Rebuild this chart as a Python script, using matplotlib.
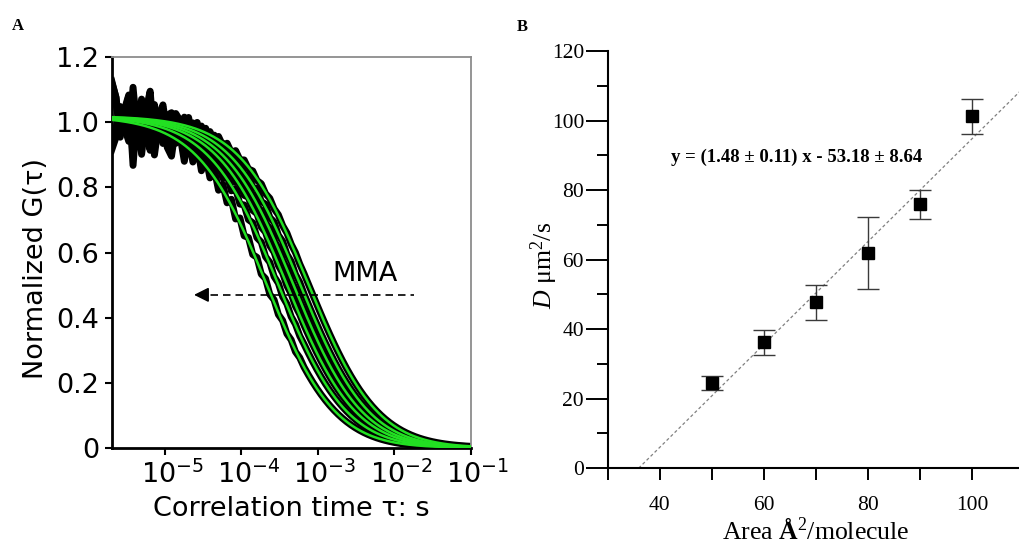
import numpy as np
import matplotlib.pyplot as plt
from matplotlib.ticker import FixedLocator, FixedFormatter, LogLocator, NullFormatter
from matplotlib.transforms import ScaledTranslation

plt.rcParams['mathtext.fontset'] = 'custom'
plt.rcParams['mathtext.rm'] = 'Liberation Serif'
plt.rcParams['mathtext.it'] = 'Liberation Serif:italic'
plt.rcParams['mathtext.bf'] = 'Liberation Serif:bold'
plt.rcParams['mathtext.sf'] = 'DejaVu Sans'

# ---- panel A: FCS curves (diffusion times) ----
tau_d = [2.15e-4, 3.05e-4, 3.95e-4, 4.8e-4, 5.9e-4, 7.6e-4]
g0 = 1.02
kappa = 5.0
alpha = 0.95
# wiggles of the measured traces at short lag times
noise = [0.12, 0.07, -0.05, 0.03, 0.08, -0.13, 0.05, -0.09, 0.03, 0.10,
         -0.08, 0.02, 0.06, -0.04, -0.06, 0.04, 0.02, -0.05, 0.04, -0.03,
         0.035, -0.03, 0.03, -0.02, 0.025, -0.02, 0.02, -0.015, 0.02, -0.015,
         0.015, -0.012, 0.012, -0.01, 0.012, -0.008, 0.01, -0.007, 0.008, -0.006,
         0.006, -0.005, 0.005, -0.004, 0.004]
curve_scale = [1.0, -0.8, 0.7, -0.6, 0.9, -0.5]
xticks_a = [1e-5, 1e-4, 1e-3, 1e-2, 1e-1]
xticklabels_a = [r'$\mathsf{10^{-5}}$', r'$\mathsf{10^{-4}}$', r'$\mathsf{10^{-3}}$',
                 r'$\mathsf{10^{-2}}$', r'$\mathsf{10^{-1}}$']
yticks_a = [0, 0.2, 0.4, 0.6, 0.8, 1.0, 1.2]
yticklabels_a = ['0', '0.2', '0.4', '0.6', '0.8', '1.0', '1.2']

# ---- panel B: diffusion coefficient vs area ----
area = [50, 60, 70, 80, 90, 100]
diff_coef = [24.4, 36.2, 47.7, 61.9, 75.9, 101.2]
diff_err = [2.0, 3.5, 5.0, 10.4, 4.2, 5.1]
slope = 1.48
intercept = -53.18


def fcs(t, td):
    u = (t / td) ** alpha
    return g0 / (1 + u) / np.sqrt(1 + u / kappa ** 2)


fig = plt.figure(figsize=(10.19, 5.45), dpi=100)

axA = fig.add_axes([0.1096, 0.1785, 0.3523, 0.7162])
t_fit = np.logspace(np.log10(2e-6), -1, 400)
t_dat = np.logspace(np.log10(2e-6), -1, 85)
for k, td in enumerate(tau_d):
    wig = np.zeros(len(t_dat))
    wig[:len(noise)] = np.array(noise) * curve_scale[k]
    axA.plot(t_dat, fcs(t_dat, td) + wig, color='black', lw=5,
             solid_joinstyle='round', zorder=2)
for td in tau_d:
    axA.plot(t_fit, fcs(t_fit, td), color='#22e022', lw=1.8, zorder=3)

axA.plot([2.7e-5, 0.018], [0.47, 0.47], color='black', lw=1.2,
         dashes=(4.5, 3), zorder=4)
axA.annotate('', xy=(2.2e-5, 0.47), xytext=(3.6e-5, 0.47),
             arrowprops=dict(arrowstyle='-|>', color='black', lw=1.2,
                             mutation_scale=22), zorder=4)
axA.text(4.2e-3, 0.535, 'MMA', fontsize=19.5, ha='center', va='center')

axA.set_xscale('log')
axA.set_xlim(2e-6, 0.1)
axA.set_ylim(0, 1.2)
axA.xaxis.set_major_locator(FixedLocator(xticks_a))
axA.xaxis.set_major_formatter(FixedFormatter(xticklabels_a))
axA.xaxis.set_minor_locator(LogLocator(base=10, subs=np.arange(2, 10)))
axA.xaxis.set_minor_formatter(NullFormatter())
axA.set_yticks(yticks_a)
axA.set_yticklabels(yticklabels_a)
for s in ['left', 'bottom']:
    axA.spines[s].set_linewidth(2)
for s in ['top', 'right']:
    axA.spines[s].set_color('#8c8c8c')
    axA.spines[s].set_linewidth(1.3)
axA.tick_params(which='major', direction='out', length=5, width=1.5,
                labelsize=19.5, pad=4)
axA.tick_params(which='minor', direction='out', length=3, width=1)
for lab in axA.get_xticklabels():
    lab.set_transform(lab.get_transform() + ScaledTranslation(0.07, 0, fig.dpi_scale_trans))
axA.set_xlabel('Correlation time τ: s', fontsize=19.5, labelpad=5)
axA.set_ylabel('Normalized G(τ)', fontsize=19.5)
axA.yaxis.set_label_coords(-0.175, 0.46)

# ---- panel B ----
axB = fig.add_axes([0.5964, 0.1409, 0.4087, 0.7653])
x_fit = np.array([-intercept / slope, 110])
axB.plot(x_fit, slope * x_fit + intercept, color='#808080', lw=0.9,
         linestyle=(0, (2.5, 2)))
axB.errorbar(area, diff_coef, yerr=diff_err, fmt='s', color='black',
             ecolor='#3a3a3a', elinewidth=1.0, capsize=8, capthick=1.0,
             markersize=9)
axB.text(66.2, 89.5, 'y = (1.48 ± 0.11) x - 53.18 ± 8.64',
         family='Liberation Serif', fontweight='bold', fontsize=13.5,
         ha='center', va='center')

axB.set_xlim(30, 110)
axB.set_ylim(0, 120)
axB.set_xticks([40, 60, 80, 100])
axB.set_xticks([30, 50, 70, 90, 110], minor=True)
axB.set_yticks([0, 20, 40, 60, 80, 100, 120])
axB.set_yticks([10, 30, 50, 70, 90, 110], minor=True)
axB.spines['top'].set_visible(False)
axB.spines['right'].set_visible(False)
axB.spines['left'].set_linewidth(1.5)
axB.spines['bottom'].set_linewidth(1.5)
axB.tick_params(axis='y', which='major', length=16, width=1.4, pad=1)
axB.tick_params(axis='y', which='minor', length=8, width=1.4)
axB.tick_params(axis='x', which='both', length=8.3, width=1.4, pad=12)
for lab in axB.get_xticklabels() + axB.get_yticklabels():
    lab.set_family('Liberation Serif')
    lab.set_fontsize(15.5)
axB.set_xlabel(r'Area $\mathbf{Å}^{2}$/molecule', family='Liberation Serif',
               fontsize=18.5, labelpad=2)
axB.set_ylabel(r'$D$ μm$^{2}$/s', family='Liberation Serif', fontsize=18.5,
               labelpad=1)
axB.yaxis.set_label_coords(-0.115, 0.485)

fig.text(0.0177, 0.952, 'A', family='Liberation Serif', fontweight='bold',
         fontsize=12, ha='center', va='center')
fig.text(0.513, 0.950, 'B', family='Liberation Serif', fontweight='bold',
         fontsize=12, ha='center', va='center')

fig.savefig('out.png', dpi=100)
